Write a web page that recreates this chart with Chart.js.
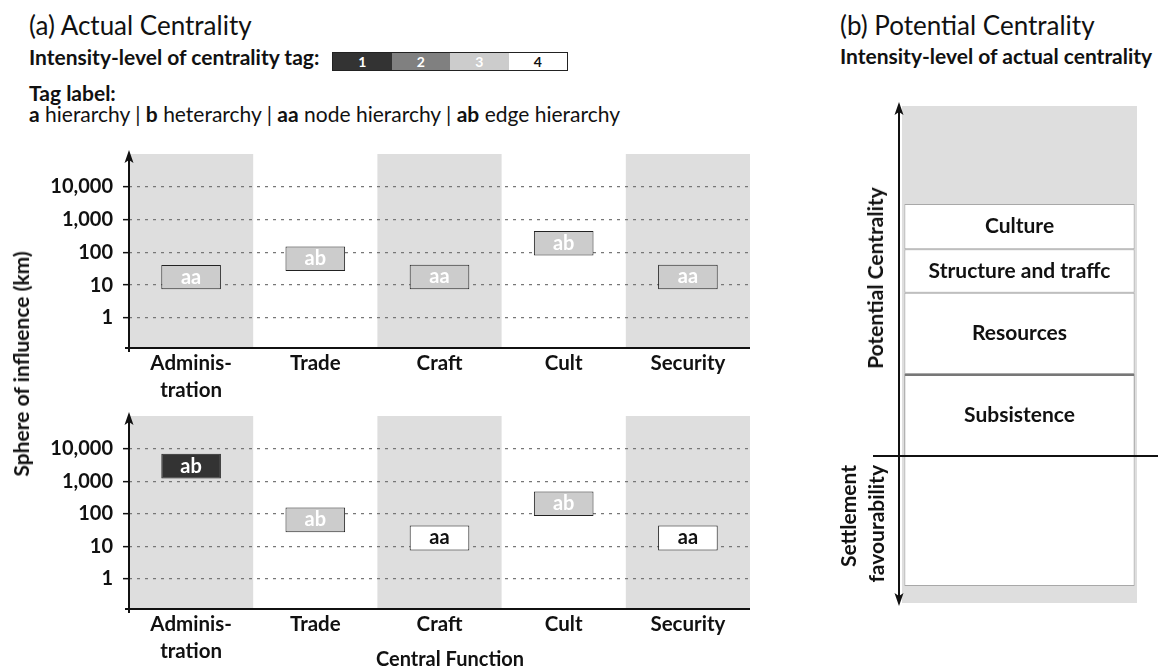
<!DOCTYPE html>
<html>
<head>
<meta charset="utf-8">
<script src="https://cdn.jsdelivr.net/npm/chart.js@4.4.0/dist/chart.umd.min.js"></script>
<style>
  body { margin: 0; width: 1158px; height: 668px; position: relative; background: #fff; font-family: Lato, sans-serif; color: #111; overflow: hidden; }
  .abs { position: absolute; white-space: nowrap; }
  canvas { position: absolute; }
  .title { font-size: 26px; line-height: 30px; }
  .bold { font-size: 21px; line-height: 24px; font-weight: bold; }
  .reg { font-size: 21px; line-height: 24px; }
  .rot { transform: translate(-50%, -50%) rotate(-90deg); font-size: 21px; font-weight: bold; line-height: 28px; }
  .legend { position: absolute; left: 332px; top: 52px; display: flex; border: 1px solid #222; height: 17px; }
  .legend span { width: 58.5px; text-align: center; font-size: 14px; font-weight: bold; line-height: 17px; }
</style>
</head>
<body>
<div class="abs title" style="left:29px;top:10px">(a) Actual Centrality</div>
<div class="abs bold" style="left:29px;top:45px">Intensity-level of centrality tag:</div>
<div class="legend" id="legend"></div>
<div class="abs bold" style="left:29px;top:81px">Tag label:</div>
<div class="abs reg" style="left:29px;top:102px"><b>a</b> hierarchy | <b>b</b> heterarchy | <b>aa</b> node hierarchy | <b>ab</b> edge hierarchy</div>

<div class="abs title" style="left:840px;top:10px">(b) Potential Centrality</div>
<div class="abs bold" style="left:840px;top:44px">Intensity-level of actual centrality</div>

<canvas id="upper" width="760" height="260" style="left:0;top:140px"></canvas>
<canvas id="lower" width="760" height="268" style="left:0;top:400px"></canvas>
<canvas id="potential" width="338" height="530" style="left:820px;top:90px"></canvas>

<div class="abs rot" style="left:21px;top:364px">Sphere of influence (km)</div>
<div class="abs bold" style="left:450px;top:646px;transform:translateX(-50%);font-size:20px">Central Function</div>
<div class="abs rot" style="left:875px;top:278px">Potential Centrality</div>
<div class="abs rot" style="left:862px;top:530px;width:130px;text-align:right;white-space:normal">Settlement<br>favourability</div>

<script>
const categories = [['Adminis-', 'tration'], 'Trade', 'Craft', 'Cult', 'Security'];
const tickValues = [1, 10, 100, 1000, 10000];

// upper row of (a): range of the sphere of influence in km
const upperLow = [7.5, 27, 7.5, 80, 7.5];
const upperHigh = [41, 150, 42, 450, 42];
const upperTag = ['aa', 'ab', 'aa', 'ab', 'aa'];
const upperLevel = [3, 3, 3, 3, 3];

// lower row of (a)
const lowerLow = [1200, 27, 7.5, 85, 7.5];
const lowerHigh = [7000, 155, 44, 480, 44];
const lowerTag = ['ab', 'ab', 'aa', 'ab', 'aa'];
const lowerLevel = [1, 3, 4, 3, 4];

const levels = ['1', '2', '3', '4'];
const levelFill = ['#333333', '#808080', '#cccccc', '#ffffff'];
const levelInk = ['#ffffff', '#ffffff', '#ffffff', '#111111'];

// (b) stacked layers of potential centrality (0 = bottom, 100 = top)
const potentialNames = ['', 'Subsistence', 'Resources', 'Structure and traffc', 'Culture'];
const potentialLow = [3.4, 29.6, 46.1, 62.4, 71.2];
const potentialHigh = [29.6, 46.1, 62.4, 71.2, 80.3];

const FONT = 'Lato, sans-serif';

// legend strip
const legend = document.getElementById('legend');
levels.forEach((l, i) => {
  const s = document.createElement('span');
  s.textContent = l;
  s.style.background = levelFill[i];
  s.style.color = levelInk[i];
  legend.appendChild(s);
});

const bandsPlugin = {
  id: 'bands',
  beforeDraw(chart) {
    const { ctx, chartArea, scales } = chart;
    const x = scales.x;
    const half = (x.getPixelForValue(1) - x.getPixelForValue(0)) / 2;
    ctx.save();
    ctx.fillStyle = '#dedede';
    categories.forEach((c, i) => {
      if (i % 2) return;
      const cx = x.getPixelForValue(i);
      ctx.fillRect(cx - half, chartArea.top, half * 2, chartArea.bottom - chartArea.top);
    });
    ctx.restore();
  }
};

const axesPlugin = {
  id: 'axes',
  afterDraw(chart) {
    const { ctx, chartArea } = chart;
    const { left, right, top, bottom } = chartArea;
    ctx.save();
    ctx.strokeStyle = '#111';
    ctx.fillStyle = '#111';
    ctx.lineWidth = 2;
    ctx.beginPath();
    ctx.moveTo(left - 4, bottom);
    ctx.lineTo(right, bottom);
    ctx.moveTo(left, bottom + 4);
    ctx.lineTo(left, top + 2);
    ctx.stroke();
    ctx.beginPath();
    ctx.moveTo(left, top - 4);
    ctx.lineTo(left - 4.5, top + 9);
    ctx.lineTo(left, top + 6);
    ctx.lineTo(left + 4.5, top + 9);
    ctx.closePath();
    ctx.fill();
    ctx.restore();
  }
};

const tagPlugin = {
  id: 'tags',
  afterDatasetsDraw(chart, args, opts) {
    const { ctx } = chart;
    const meta = chart.getDatasetMeta(0);
    ctx.save();
    ctx.font = 'bold 20px ' + FONT;
    ctx.textAlign = 'center';
    ctx.textBaseline = 'middle';
    meta.data.forEach((bar, i) => {
      ctx.fillStyle = levelInk[opts.levels[i] - 1];
      ctx.fillText(opts.tags[i], bar.x, (bar.y + bar.base) / 2);
    });
    ctx.restore();
  }
};

function makeRow(id, low, high, tags, lvls, topPad, axisHeight) {
  return new Chart(document.getElementById(id), {
    type: 'bar',
    data: {
      labels: categories,
      datasets: [{
        data: low.map((v, i) => [v, high[i]]),
        backgroundColor: lvls.map(l => levelFill[l - 1]),
        borderColor: '#222',
        borderWidth: 1,
        borderSkipped: false,
        barPercentage: 0.48,
        categoryPercentage: 1
      }]
    },
    options: {
      responsive: false,
      animation: false,
      layout: { padding: { top: topPad, right: 10, left: 0, bottom: 0 } },
      plugins: {
        legend: { display: false },
        tooltip: { enabled: false },
        tags: { tags: tags, levels: lvls }
      },
      scales: {
        x: {
          grid: { display: false, drawTicks: false },
          border: { display: false },
          ticks: { font: { family: FONT, size: 20.5, weight: 'bold', lineHeight: 1.32 }, color: '#111', padding: 2, maxRotation: 0, autoSkip: false },
          afterFit: s => { s.height = axisHeight; s.paddingLeft = 0; s.paddingRight = 0; }
        },
        y: {
          type: 'logarithmic',
          min: 0.12,
          max: 100000,
          afterBuildTicks: s => { s.ticks = tickValues.map(v => ({ value: v })); },
          afterFit: s => { s.width = 129; s.paddingTop = 0; s.paddingBottom = 0; },
          ticks: { callback: v => Number(v).toLocaleString('en-US'), font: { family: FONT, size: 20, weight: 'bold' }, color: '#111', padding: 10 },
          grid: { color: '#777', lineWidth: 1.3, tickLength: 6, tickColor: '#111', tickWidth: 1.5 },
          border: { display: false, dash: [3, 5] }
        }
      }
    },
    plugins: [bandsPlugin, axesPlugin, tagPlugin]
  });
}

makeRow('upper', upperLow, upperHigh, upperTag, upperLevel, 14, 52);
makeRow('lower', lowerLow, lowerHigh, lowerTag, lowerLevel, 16, 59);

// (b) potential centrality
const potentialPlugin = {
  id: 'potentialDeco',
  beforeDraw(chart) {
    const { ctx, chartArea } = chart;
    ctx.save();
    ctx.fillStyle = '#dedede';
    ctx.fillRect(chartArea.left, chartArea.top, chartArea.right - chartArea.left, chartArea.bottom - chartArea.top);
    ctx.restore();
  },
  afterDatasetsDraw(chart) {
    const { ctx } = chart;
    ctx.save();
    ctx.font = 'bold 21px ' + FONT;
    ctx.fillStyle = '#111';
    ctx.textAlign = 'center';
    ctx.textBaseline = 'middle';
    potentialNames.forEach((n, i) => {
      if (!n) return;
      const bar = chart.getDatasetMeta(i).data[0];
      ctx.fillText(n, bar.x, (bar.y + bar.base) / 2);
    });
    ctx.restore();
  },
  afterDraw(chart) {
    const { ctx, chartArea, scales } = chart;
    const ax = chartArea.left - 3;
    const lineY = scales.y.getPixelForValue(potentialHigh[0]);
    ctx.save();
    ctx.strokeStyle = '#111';
    ctx.fillStyle = '#111';
    ctx.lineWidth = 2;
    ctx.beginPath();
    ctx.moveTo(ax, chartArea.top + 2);
    ctx.lineTo(ax, chartArea.bottom - 1);
    ctx.moveTo(chartArea.left - 29, lineY);
    ctx.lineTo(chart.width, lineY);
    ctx.stroke();
    const top = chartArea.top - 4, bot = chartArea.bottom + 3;
    ctx.beginPath();
    ctx.moveTo(ax, top); ctx.lineTo(ax - 4.5, top + 13); ctx.lineTo(ax, top + 10); ctx.lineTo(ax + 4.5, top + 13); ctx.closePath();
    ctx.moveTo(ax, bot); ctx.lineTo(ax - 4.5, bot - 13); ctx.lineTo(ax, bot - 10); ctx.lineTo(ax + 4.5, bot - 13); ctx.closePath();
    ctx.fill();
    ctx.restore();
  }
};

new Chart(document.getElementById('potential'), {
  type: 'bar',
  data: {
    labels: [''],
    datasets: potentialNames.map((n, i) => ({
      label: n,
      data: [[potentialLow[i], potentialHigh[i]]],
      backgroundColor: '#ffffff',
      borderColor: i === 1 ? '#777' : '#a8a8a8',
      borderWidth: i === 1 ? { top: 2, left: 1, right: 1, bottom: 1 } : 1,
      borderSkipped: false,
      grouped: false,
      barPercentage: 0.98,
      categoryPercentage: 1
    }))
  },
  options: {
    responsive: false,
    animation: false,
    layout: { padding: { top: 16, right: 21, left: 82, bottom: 17 } },
    plugins: { legend: { display: false }, tooltip: { enabled: false } },
    scales: {
      x: { display: false },
      y: { display: false, min: 0, max: 100 }
    }
  },
  plugins: [potentialPlugin]
});
</script>
</body>
</html>
